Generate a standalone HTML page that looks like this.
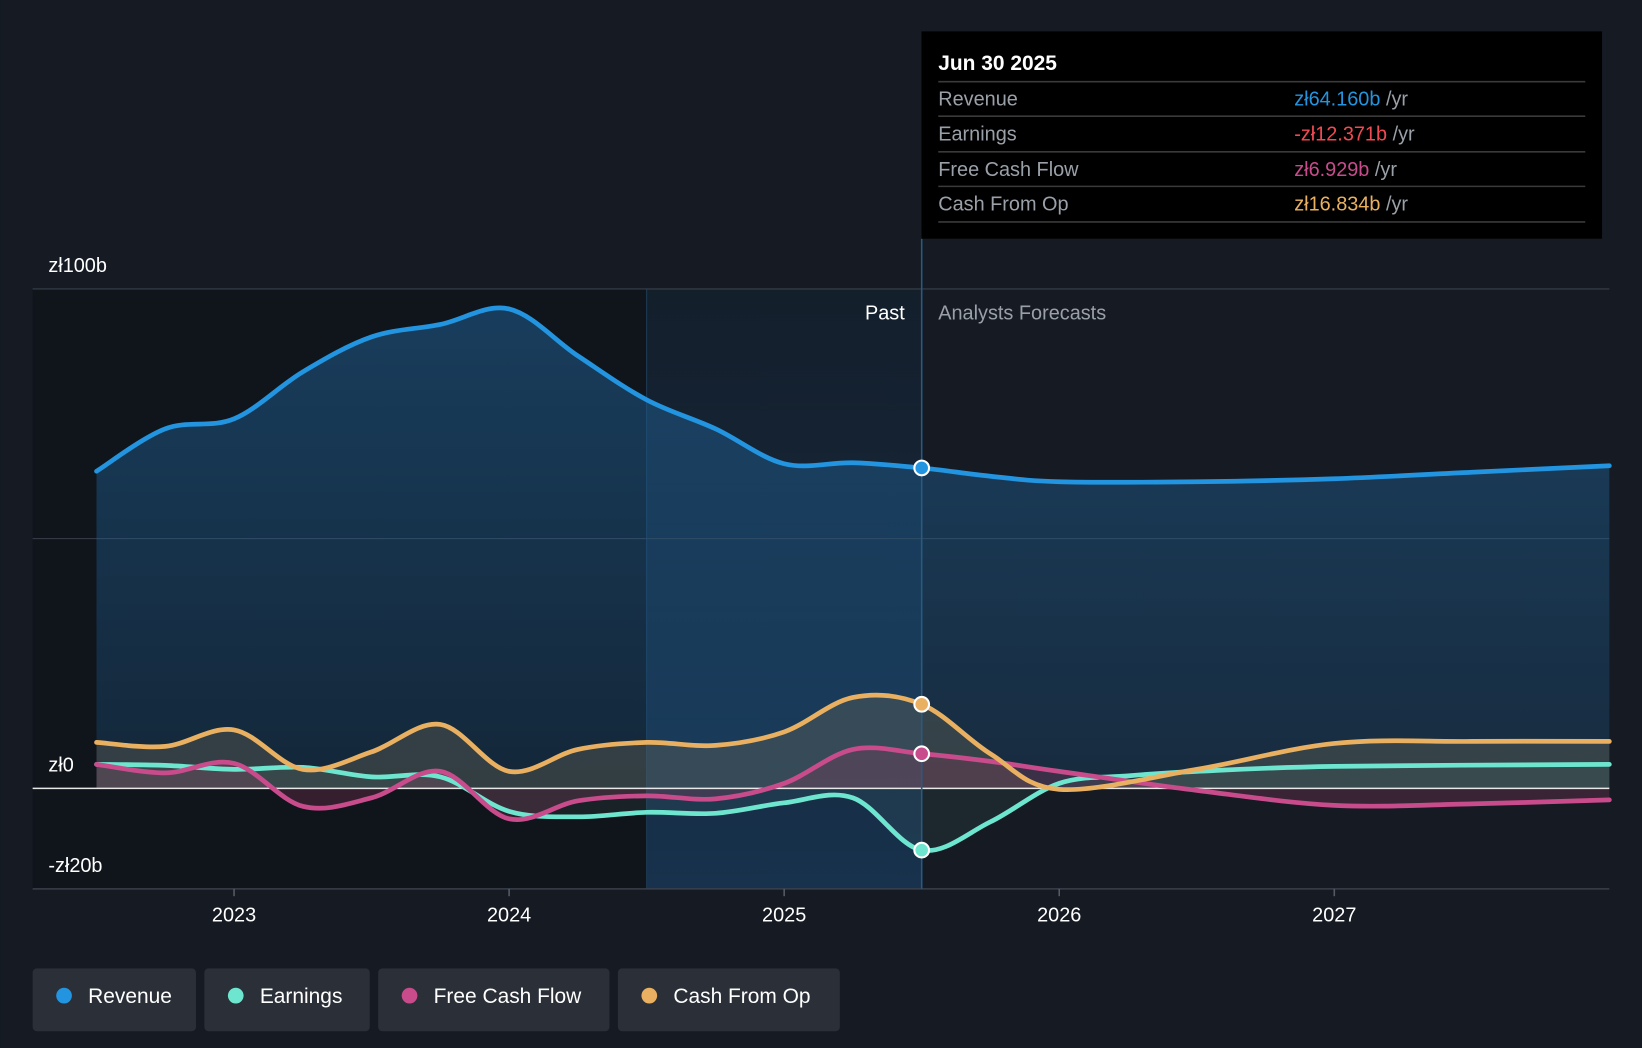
<!DOCTYPE html>
<html><head><meta charset="utf-8"><style>
html,body{margin:0;padding:0;background:#151a23;}
svg{display:block;font-family:"Liberation Sans",sans-serif;}
</style></head><body>
<svg id="chart" width="1642" height="1048" viewBox="0 0 1568 1001" xmlns="http://www.w3.org/2000/svg">
<defs>
<linearGradient id="revGrad" x1="0" y1="0" x2="0" y2="1">
<stop offset="0" stop-color="#1f5f92" stop-opacity="0.55"/>
<stop offset="1" stop-color="#1f5f92" stop-opacity="0.25"/>
</linearGradient>
<linearGradient id="hlGrad" x1="0" y1="0" x2="0" y2="1">
<stop offset="0" stop-color="#12324f" stop-opacity="0.2"/>
<stop offset="1" stop-color="#1a4a78" stop-opacity="0.5"/>
</linearGradient>
</defs>
<rect x="0" y="0" width="1568" height="1001" fill="#151a23"/>
<g id="plot"></g>
</svg>
<script>
const revYears=[2022.5,2022.75,2023,2023.25,2023.5,2023.75,2024,2024.25,2024.5,2024.75,2025,2025.25,2025.5,2025.75,2026,2026.5,2027,2027.5,2028];
const revenue=[63.5,72,74,83.4,90.4,92.9,96,86.6,77.8,72,65,65.2,64.16,62.5,61.4,61.4,62,63.3,64.6];
const earnYears=[2022.5,2022.75,2023,2023.25,2023.5,2023.75,2024,2024.25,2024.5,2024.75,2025,2025.25,2025.5,2025.75,2026,2026.25,2026.5,2027,2028];
const earnings=[4.8,4.6,3.8,4.2,2.3,2.3,-4.6,-5.7,-4.8,-5,-2.9,-1.9,-12.37,-6.7,1,2.5,3.4,4.4,4.8];
const fcfYears=[2022.5,2022.75,2023,2023.25,2023.5,2023.75,2024,2024.25,2024.5,2024.75,2025,2025.25,2025.5,2025.75,2026,2026.5,2027,2027.5,2028];
const fcf=[4.8,3.1,5,-3.6,-1.9,3.4,-6.1,-2.5,-1.5,-2.1,1,7.8,6.93,5.4,3.4,-0.4,-3.4,-3.1,-2.3];
const cfoYears=[2022.5,2022.75,2023,2023.25,2023.5,2023.75,2024,2024.25,2024.5,2024.75,2025,2025.25,2025.5,2025.75,2026,2026.5,2027,2027.5,2028];
const cfo=[9.2,8.4,11.7,3.8,7.3,12.8,3.4,7.8,9.2,8.6,11.3,18.2,16.83,6.9,-0.2,3.8,9,9.4,9.4];
const xTicks=[2023,2024,2025,2026,2027];
const yTicks=[100,50,0,-20];
const yLabels={"100":"zł100b","0":"zł0","-20":"-zł20b"};

const NS="http://www.w3.org/2000/svg";
const g=document.getElementById('plot');
const X0=92,X1=1537,T0=2022.5,T1=2028;
const x=t=>X0+(t-T0)/(T1-T0)*(X1-X0);
const y=v=>753-v*4.77;
function el(tag,attrs,parent){const e=document.createElementNS(NS,tag);for(const k in attrs)e.setAttribute(k,attrs[k]);(parent||g).appendChild(e);return e;}
function curve(xs,vs){
  const p=xs.map((t,i)=>[x(t),y(vs[i])]);
  let d="M"+p[0][0]+","+p[0][1];
  for(let i=0;i<p.length-1;i++){
    const p0=p[i-1]||p[i],p1=p[i],p2=p[i+1],p3=p[i+2]||p2;
    const c1=[p1[0]+(p2[0]-p0[0])/6,p1[1]+(p2[1]-p0[1])/6];
    const c2=[p2[0]-(p3[0]-p1[0])/6,p2[1]-(p3[1]-p1[1])/6];
    d+=`C${c1[0]},${c1[1]} ${c2[0]},${c2[1]} ${p2[0]},${p2[1]}`;
  }
  return d;
}
// regions
let r=el('rect',{x:X0-61,y:276,width:x(2024.5)-X0+61,height:573,fill:'#10141b'});

r=el('rect',{x:x(2024.5),y:276,width:x(2025.5)-x(2024.5),height:573,fill:'url(#hlGrad)'});

el('line',{x1:x(2024.5),y1:276,x2:x(2024.5),y2:849,stroke:'#1e3a55','stroke-width':1});
// grid
[100,50].forEach(v=>{const l=el('line',{x1:31,x2:1537,y1:y(v),y2:y(v),stroke:'#3a404a','stroke-width':1});});
el('line',{x1:31,x2:1537,y1:849,y2:849,stroke:'#3a404a','stroke-width':1.5});
// areas
const series=[
 {name:'revenue',xs:revYears,vs:revenue,color:'#2394df',fill:'url(#revGrad)',op:1},
 {name:'cash-from-op',xs:cfoYears,vs:cfo,color:'#e8b060',fill:'#6e6a55',op:0.35},
 {name:'free-cash-flow',xs:fcfYears,vs:fcf,color:'#c84b8c',fill:'#8a3a5c',op:0.3},
 {name:'earnings',xs:earnYears,vs:earnings,color:'#6ee6cf',fill:'#5a8a86',op:0.12}
];
series.forEach(s=>{
  const d=curve(s.xs,s.vs)+`L${x(s.xs[s.xs.length-1])},${y(0)}L${x(s.xs[0])},${y(0)}Z`;
  const a=el('path',{d,fill:s.fill,'fill-opacity':s.op});
  
});
// zero line
let z=el('line',{x1:31,x2:1537,y1:y(0),y2:y(0),stroke:'#e8e8e8','stroke-width':1.5});

// lines
[series[0],series[3],series[2],series[1]].forEach(s=>{
  const l=el('path',{d:curve(s.xs,s.vs),fill:'none',stroke:s.color,'stroke-width':4.5,'stroke-linecap':'round'});
  
});
// now line
el('line',{x1:x(2025.5),y1:228,x2:x(2025.5),y2:849,stroke:'#2a5a80','stroke-width':1.5});
// markers
series.forEach(s=>{
  const i=s.xs.indexOf(2025.5);
  const c=el('circle',{cx:x(2025.5),cy:y(s.vs[i]),r:7,fill:s.color,stroke:'#fff','stroke-width':2});
  
});
// y labels
yTicks.forEach(v=>{
  if(!(v in yLabels))return;
  const t=el('text',{x:46,y:y(v)-16+(v==-20?88-72+15:0),fill:'#fff','font-size':19});
  if(v===-20)t.setAttribute('y',833);
  t.textContent=yLabels[v];
  
});
// x ticks
xTicks.forEach(v=>{
  el('line',{x1:x(v),x2:x(v),y1:849,y2:856,stroke:'#555b65','stroke-width':1.5});
  const t=el('text',{x:x(v),y:880,fill:'#fff','font-size':19,'text-anchor':'middle'});
  t.textContent=v;
});
let t=el('text',{x:864,y:305,fill:'#fff','font-size':19,'text-anchor':'end'});t.textContent='Past';

t=el('text',{x:896,y:305,fill:'#9aa0a8','font-size':19});t.textContent='Analysts Forecasts';

// tooltip
const tip=el('g',{});
el('rect',{x:880,y:30,width:650,height:198,fill:'#000'},tip);
t=el('text',{x:896,y:67,fill:'#fff','font-size':20,'font-weight':'bold'},tip);t.textContent='Jun 30 2025';
[78,111,145,178,212].forEach(yy=>el('line',{x1:896,x2:1514,y1:yy,y2:yy,stroke:'#3a3a3a','stroke-width':1.5},tip));
const rows=[['Revenue','zł64.160b','#2394df'],['Earnings','-zł12.371b','#f04a52'],['Free Cash Flow','zł6.929b','#c84b8c'],['Cash From Op','zł16.834b','#e8b060']];
[101,134,168,201].forEach((yy,i)=>{
  let a=el('text',{x:896,y:yy,fill:'#9aa0a8','font-size':19},tip);a.textContent=rows[i][0];
  a=el('text',{x:1236,y:yy,'font-size':19},tip);
  const s1=el('tspan',{fill:rows[i][2]},a);s1.textContent=rows[i][1];
  const s2=el('tspan',{fill:'#9aa0a8'},a);s2.textContent=' /yr';
});
// legend
const leg=[['Revenue',31,156,'#2394df'],['Earnings',195,158,'#6ee6cf'],['Free Cash Flow',361,221,'#c84b8c'],['Cash From Op',590,212,'#e8b060']];
leg.forEach(l=>{
  const gg=el('g',{});
  el('rect',{x:l[1],y:925,width:l[2],height:60,rx:4,fill:'#2a2f38'},gg);
  el('circle',{cx:l[1]+30,cy:951,r:7.5,fill:l[3]},gg);
  const tt=el('text',{x:l[1]+53,y:958,fill:'#fff','font-size':20},gg);tt.textContent=l[0];
});
</script>
</body></html>
